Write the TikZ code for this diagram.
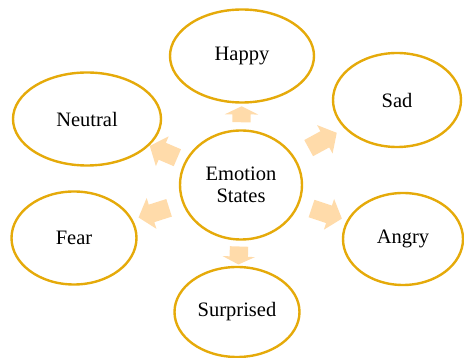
\documentclass[tikz,border=0pt]{standalone}
\usepackage{fontspec}
\setmainfont{Liberation Serif}
\usetikzlibrary{shapes.geometric,shapes.arrows}
\definecolor{gold}{RGB}{229,170,10}
\definecolor{peach}{RGB}{255,219,170}
\begin{document}
\begin{tikzpicture}[x=1pt,y=-1pt, every node/.style={font=\fontsize{20.5}{22}\selectfont}]
  \tikzstyle{emo}=[draw=gold,line width=2.4pt,ellipse,inner sep=0pt,align=center]
  \tikzstyle{blk}=[single arrow,fill=peach,draw=none,inner xsep=0pt,inner ysep=9pt,
    text width=0pt,text height=0pt,text depth=0pt,
    sloped,allow upside down,anchor=center]
  \useasboundingbox (0,0) rectangle (464,358);
  % centre
  \node[emo,minimum width=122,minimum height=109] (core) at (241,185) {Emotion\\States};
  % the six emotions
  \node[emo,minimum width=144,minimum height=93] (happy) at (242,56) {Happy};
  \node[emo,minimum width=128,minimum height=94] (sad) at (397,100) {Sad};
  \node[emo,minimum width=148,minimum height=93] (neutral) at (87,119) {Neutral};
  \node[emo,minimum width=125,minimum height=93] (fear) at (74,238) {Fear};
  \node[emo,minimum width=120,minimum height=92] (angry) at (403,239) {Angry};
  \node[emo,minimum width=125,minimum height=90] (surp) at (237,312) {Surprised};
  % block arrows
  \path (core) -- (happy) node[blk,pos=0.5,minimum height=16,
    single arrow head extend=7.5,single arrow tip angle=128] (a1) {};
  \path (core) -- (surp) node[blk,pos=0.5,minimum height=18,
    single arrow head extend=7,single arrow tip angle=128] (a2) {};
  \path (core) -- (sad) node[blk,pos=0.5,minimum height=32,
    single arrow head extend=7,single arrow tip angle=100] (a3) {};
  \path (core) -- (angry) node[blk,pos=0.5,minimum height=32,
    single arrow head extend=7,single arrow tip angle=100] (a4) {};
  \path (core) -- (neutral) node[blk,pos=0.5,minimum height=30,
    single arrow head extend=7,single arrow tip angle=100] (a5) {};
  \path (core) -- (fear) node[blk,pos=0.5,minimum height=32,
    single arrow head extend=7,single arrow tip angle=100] (a6) {};
\end{tikzpicture}
\end{document}
